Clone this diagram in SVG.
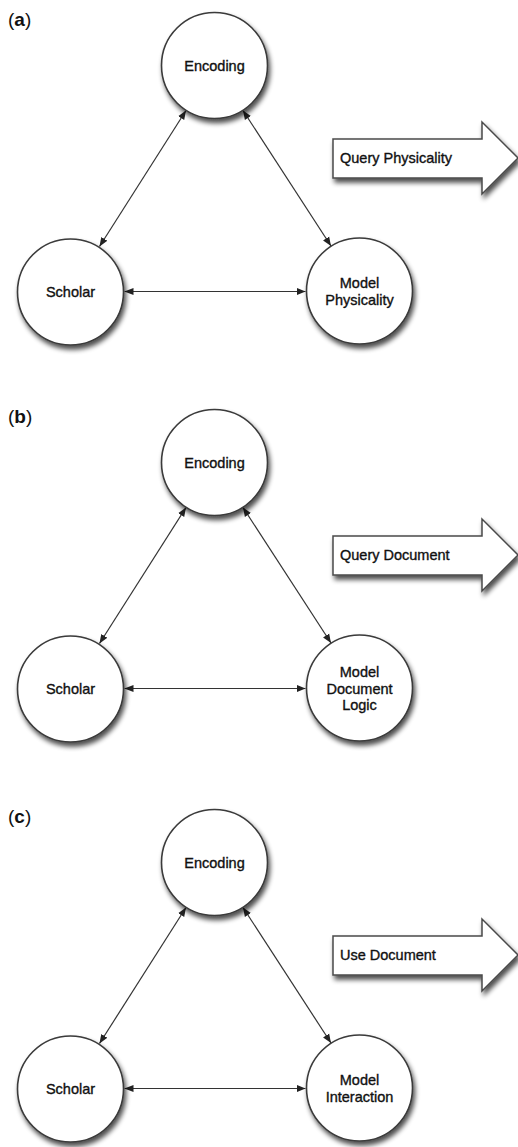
<svg xmlns="http://www.w3.org/2000/svg" width="518" height="1147" viewBox="0 0 518 1147">
<style>
.node{fill:#fff;stroke:#3a3a3a;stroke-width:1.6}
.blk{fill:#fff;stroke:#4a4a4a;stroke-width:1.5}
.t{font-family:"Liberation Sans",Arial,sans-serif;font-size:14.5px;fill:#111;stroke:#111;stroke-width:0.35;text-anchor:middle}
.tl{font-family:"Liberation Sans",Arial,sans-serif;font-size:14.5px;fill:#111;stroke:#111;stroke-width:0.35}
.lab{font-family:"Liberation Sans",Arial,sans-serif;font-size:19px;fill:#111}
.edge{stroke:#333;stroke-width:1.2;fill:none;marker-start:url(#ah);marker-end:url(#ah)}
</style>
<defs>
<filter id="sh" x="-30%" y="-30%" width="160%" height="170%">
<feGaussianBlur in="SourceAlpha" stdDeviation="2.5"/>
<feOffset dx="1.5" dy="4" result="b"/>
<feComponentTransfer><feFuncA type="linear" slope="0.7"/></feComponentTransfer>
<feMerge><feMergeNode/><feMergeNode in="SourceGraphic"/></feMerge>
</filter>
<marker id="ah" viewBox="0 0 10 10" refX="10" refY="5" markerWidth="9" markerHeight="9" markerUnits="userSpaceOnUse" orient="auto-start-reverse">
<path d="M0,1 L10,5 L0,9 z" fill="#222"/>
</marker>
</defs>
<rect width="518" height="1147" fill="#fff"/>

<!-- panel a -->
<g id="panel-a">
<text class="lab" x="8" y="26">(<tspan font-weight="bold">a</tspan>)</text>
<g id="connectors-a">
<line class="edge" x1="186" y1="110.5" x2="99.5" y2="246.5"/>
<line class="edge" x1="243" y1="110.5" x2="331" y2="246"/>
<line class="edge" x1="124.5" y1="291.5" x2="305.5" y2="291.5"/>
</g>
<g id="a-encoding"><circle class="node" cx="214.5" cy="65.5" r="53" filter="url(#sh)"/><text class="t" x="214.5" y="70.5">Encoding</text></g>
<g id="a-scholar"><circle class="node" cx="70.5" cy="292" r="53" filter="url(#sh)"/><text class="t" x="70.5" y="297">Scholar</text></g>
<g id="a-model"><circle class="node" cx="359.5" cy="291" r="53" filter="url(#sh)"/><text class="t" x="359.5" y="288">Model</text><text class="t" x="359.5" y="305">Physicality</text></g>
<g id="a-query"><path class="blk" filter="url(#sh)" d="M333,139 L482,139 L482,122 L518,158 L482,194 L482,178 L333,178 Z"/><text class="tl" x="340" y="163">Query Physicality</text></g>
</g>

<!-- panel b -->
<g id="panel-b" transform="translate(0,397)">
<text class="lab" x="8" y="26">(<tspan font-weight="bold">b</tspan>)</text>
<g id="connectors-b">
<line class="edge" x1="186" y1="110.5" x2="99.5" y2="246.5"/>
<line class="edge" x1="243" y1="110.5" x2="331" y2="246"/>
<line class="edge" x1="124.5" y1="291.5" x2="305.5" y2="291.5"/>
</g>
<g id="b-encoding"><circle class="node" cx="214.5" cy="65.5" r="53" filter="url(#sh)"/><text class="t" x="214.5" y="70.5">Encoding</text></g>
<g id="b-scholar"><circle class="node" cx="70.5" cy="292" r="53" filter="url(#sh)"/><text class="t" x="70.5" y="297">Scholar</text></g>
<g id="b-model"><circle class="node" cx="359.5" cy="291" r="53" filter="url(#sh)"/><text class="t" x="359.5" y="280">Model</text><text class="t" x="359.5" y="296.5">Document</text><text class="t" x="359.5" y="313">Logic</text></g>
<g id="b-query"><path class="blk" filter="url(#sh)" d="M333,139 L482,139 L482,122 L518,158 L482,194 L482,178 L333,178 Z"/><text class="tl" x="340" y="163">Query Document</text></g>
</g>

<!-- panel c -->
<g id="panel-c" transform="translate(0,797)">
<text class="lab" x="8" y="26">(<tspan font-weight="bold">c</tspan>)</text>
<g id="connectors-c">
<line class="edge" x1="186" y1="110.5" x2="99.5" y2="246.5"/>
<line class="edge" x1="243" y1="110.5" x2="331" y2="246"/>
<line class="edge" x1="124.5" y1="291.5" x2="305.5" y2="291.5"/>
</g>
<g id="c-encoding"><circle class="node" cx="214.5" cy="65.5" r="53" filter="url(#sh)"/><text class="t" x="214.5" y="70.5">Encoding</text></g>
<g id="c-scholar"><circle class="node" cx="70.5" cy="292" r="53" filter="url(#sh)"/><text class="t" x="70.5" y="297">Scholar</text></g>
<g id="c-model"><circle class="node" cx="359.5" cy="291" r="53" filter="url(#sh)"/><text class="t" x="359.5" y="288">Model</text><text class="t" x="359.5" y="305">Interaction</text></g>
<g id="c-use"><path class="blk" filter="url(#sh)" d="M333,139 L482,139 L482,122 L518,158 L482,194 L482,178 L333,178 Z"/><text class="tl" x="340" y="163">Use Document</text></g>
</g>
</svg>
